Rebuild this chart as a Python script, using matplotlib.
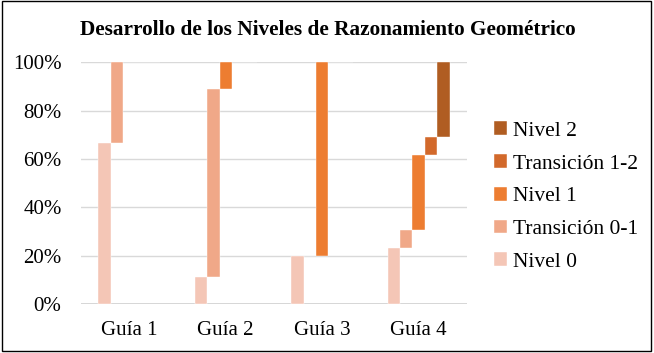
import numpy as np
import matplotlib
matplotlib.use("Agg")
import matplotlib.pyplot as plt
from matplotlib.patches import Rectangle

plt.rcParams['font.family'] = ['Liberation Serif', 'DejaVu Serif']

# datos (porcentaje de estudiantes por nivel)
guias = ["Guía 1", "Guía 2", "Guía 3", "Guía 4"]
niveles = ["Nivel 0", "Transición 0-1", "Nivel 1", "Transición 1-2", "Nivel 2"]
nivel_0 = [66.7, 11.1, 20.0, 23.1]
trans_01 = [33.3, 77.8, 0.0, 7.7]
nivel_1 = [0.0, 11.1, 80.0, 30.8]
trans_12 = [0.0, 0.0, 0.0, 7.7]
nivel_2 = [0.0, 0.0, 0.0, 30.7]
colores = ["#F4C6B6", "#F0A888", "#ED7D31", "#D2692B", "#B05D22"]

series = np.array([nivel_0, trans_01, nivel_1, trans_12, nivel_2])

fig = plt.figure(figsize=(6.54, 3.53), dpi=100)
ax = fig.add_axes([0.1239, 0.138, 0.590, 0.6855])

x = np.arange(len(guias))
w = 0.128
base = np.zeros(len(guias))
handles = []
for j, (nombre, vals, c) in enumerate(zip(niveles, series, colores)):
    b = ax.bar(x + (j - 2) * w, vals, width=w, bottom=base, color=c,
               edgecolor="white", linewidth=0.3, label=nombre, zorder=3)
    handles.append(b)
    base = base + vals

ax.set_xlim(-0.5, len(guias) - 0.5)
ax.set_ylim(0, 100)
ax.set_yticks(np.arange(0, 101, 20))
ax.set_yticklabels([f"{v}%" for v in range(0, 101, 20)], fontsize=15)
ax.set_xticks(x)
ax.set_xticklabels(guias, fontsize=15)
ax.tick_params(length=0)
ax.tick_params(axis='x', pad=12)
ax.tick_params(axis='y', pad=14)
ax.grid(axis='y', color="#D9D9D9", linewidth=1, zorder=0)
for s in ax.spines.values():
    s.set_visible(False)
ax.axhline(0, color="#D0D0D0", linewidth=1.2, zorder=1)

leg = fig.legend(handles[::-1], niveles[::-1], loc="center left",
                 bbox_to_anchor=(0.756, 0.443), frameon=False, fontsize=15.5,
                 handlelength=0.6, handleheight=0.6, handletextpad=0.25,
                 labelspacing=0.62, borderaxespad=0, borderpad=0)

fig.text(0.501, 0.915, "Desarrollo de los Niveles de Razonamiento Geométrico",
         ha="center", va="center", fontsize=15.3, fontweight="bold")

fig.patches.append(Rectangle((0.003, 0.006), 0.993, 0.99, transform=fig.transFigure,
                             fill=False, edgecolor="black", linewidth=1.0))

fig.savefig("out.png", dpi=100)
